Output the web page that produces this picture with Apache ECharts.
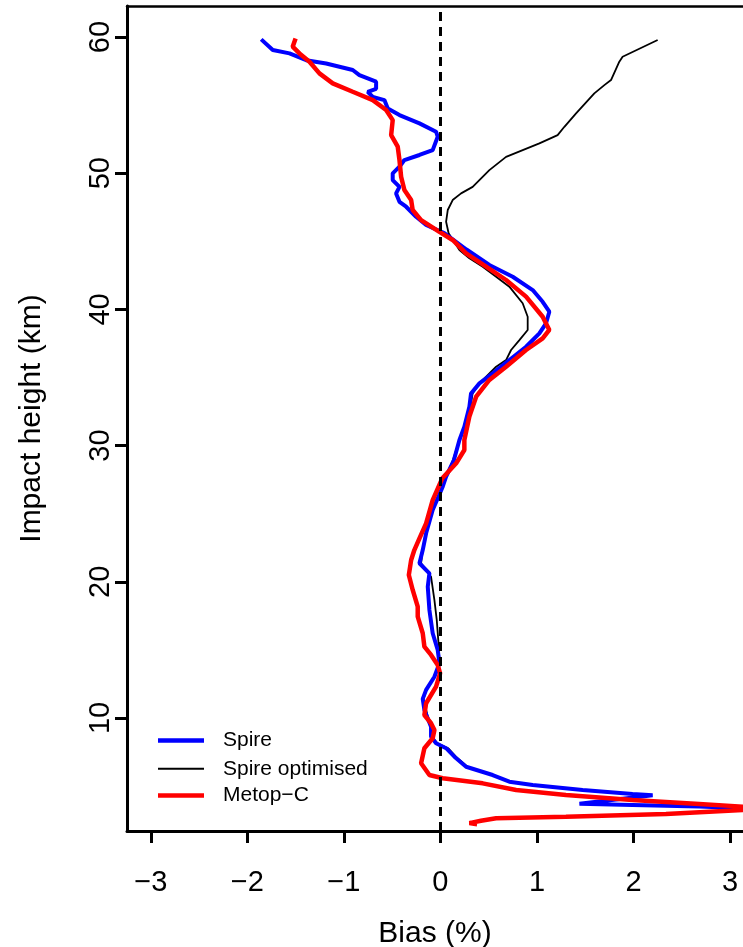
<!DOCTYPE html>
<html>
<head>
<meta charset="utf-8">
<script src="https://cdn.jsdelivr.net/npm/echarts@6/dist/echarts.min.js"></script>
<style>
  html, body { margin: 0; padding: 0; background: #fff; }
  #main { width: 743px; height: 947px; }
</style>
</head>
<body>
<div id="main"></div>
<script>
// tick values
const biasTicks = [-3, -2, -1, 0, 1, 2, 3]
const heightTicks = [10, 20, 30, 40, 50, 60]
const refBias = 0

// Spire
const spireHeight = [59.83, 59.05, 58.8, 58.3, 58.06, 57.58, 57.2, 56.72, 56.2, 55.98, 55.6, 55.37, 54.76, 54.27, 53.66, 53.05, 52.68, 51.7, 51.34, 50.97, 50.48, 49.99, 49.5, 49.0, 48.52, 47.9, 47.54, 46.8, 46.2, 45.6, 44.4, 43.26, 42.4, 41.42, 40.56, 39.83, 38.98, 38.24, 37.26, 36.28, 35.3, 34.57, 33.83, 32.85, 31.39, 30.41, 28.94, 27.72, 26.98, 25.27, 23.56, 22.33, 21.36, 20.62, 19.64, 17.93, 16.22, 15.0, 14.02, 13.03, 12.06, 11.4, 10.59, 9.36, 8.63, 8.14, 7.78, 7.16, 6.42, 5.81, 5.32, 5.08, 4.71, 4.42, 4.32, 3.70, 3.61, 3.49, 3.37, 3.33]
const spireBias = [-1.856, -1.736, -1.563, -1.39, -1.183, -0.908, -0.839, -0.666, -0.666, -0.753, -0.70, -0.58, -0.545, -0.424, -0.217, -0.045, -0.028, -0.08, -0.217, -0.373, -0.424, -0.494, -0.494, -0.424, -0.459, -0.424, -0.355, -0.252, -0.148, 0.04, 0.27, 0.507, 0.749, 0.956, 1.059, 1.128, 1.094, 1.025, 0.887, 0.714, 0.541, 0.404, 0.317, 0.30, 0.248, 0.197, 0.14, 0.059, 0.024, -0.08, -0.148, -0.183, -0.217, -0.114, -0.131, -0.114, -0.08, -0.028, -0.01, -0.062, -0.148, -0.183, -0.166, -0.097, -0.097, -0.045, 0.059, 0.145, 0.266, 0.541, 0.714, 0.956, 1.473, 1.99, 2.198, 1.44, 1.99, 2.68, 3.13, 3.3]

// Spire optimised
const optHeight = [59.78, 58.55, 58.19, 56.84, 56.47, 55.86, 54.39, 53.41, 52.8, 52.19, 51.2, 50.23, 49.0, 48.52, 48.03, 47.3, 46.44, 45.59, 44.36, 43.75, 43.14, 42.4, 41.67, 40.45, 39.46, 38.49, 37.75, 37.02, 36.28, 35.79, 34.57, 33.83, 32.37, 30.41, 28.94, 27.72, 25.27, 23.56, 22.33, 21.36, 20.37, 18.66, 17.2, 15.24, 14.02, 13.03, 12.06, 11.4, 10.1, 9.36, 8.63, 8.14, 7.78, 7.16, 6.42, 5.81, 5.32, 5.08, 4.71]
const optBias = [2.25, 1.887, 1.853, 1.767, 1.698, 1.594, 1.405, 1.284, 1.214, 1.025, 0.68, 0.507, 0.334, 0.214, 0.127, 0.076, 0.059, 0.085, 0.197, 0.30, 0.438, 0.577, 0.714, 0.852, 0.904, 0.904, 0.818, 0.732, 0.68, 0.577, 0.404, 0.334, 0.30, 0.197, 0.13, 0.06, -0.08, -0.148, -0.183, -0.2, -0.097, -0.062, -0.038, -0.017, -0.01, -0.062, -0.148, -0.175, -0.131, -0.09, -0.09, -0.03, 0.08, 0.16, 0.28, 0.54, 0.71, 0.95, 1.46]

// Metop-C
const metopHeight = [59.9, 59.29, 58.8, 58.19, 57.33, 56.6, 55.98, 55.37, 54.64, 53.9, 52.8, 51.95, 50.97, 49.74, 48.77, 48.03, 47.3, 46.56, 45.7, 45.1, 44.12, 43.14, 42.16, 40.94, 39.46, 38.49, 37.87, 37.02, 35.79, 34.82, 33.59, 32.13, 30.41, 29.68, 28.7, 27.6, 26.0, 24.29, 23.19, 22.33, 21.6, 20.5, 19.4, 18.17, 17.44, 16.22, 15.24, 14.63, 13.89, 13.28, 12.3, 11.08, 10.22, 9.61, 9.12, 8.51, 7.78, 6.67, 5.81, 5.57, 5.2, 4.71, 4.35, 3.98, 3.69, 3.49, 3.37, 3.24, 2.95, 2.75, 2.63, 2.45, 2.28, 2.2]
const metopBias = [-1.50, -1.53, -1.46, -1.356, -1.253, -1.115, -0.908, -0.70, -0.562, -0.494, -0.51, -0.442, -0.424, -0.407, -0.373, -0.303, -0.287, -0.2, -0.01, 0.127, 0.266, 0.473, 0.68, 0.887, 1.059, 1.128, 1.059, 0.887, 0.68, 0.507, 0.37, 0.30, 0.248, 0.248, 0.163, 0.02, -0.08, -0.148, -0.217, -0.27, -0.303, -0.327, -0.287, -0.235, -0.235, -0.183, -0.166, -0.097, -0.028, -0.003, -0.045, -0.148, -0.166, -0.097, -0.062, -0.08, -0.166, -0.2, -0.114, 0.024, 0.438, 0.784, 1.30, 1.99, 2.68, 3.13, 3.3, 3.13, 2.336, 1.30, 0.577, 0.42, 0.30, 0.38]

const FONT = '"Liberation Sans", Arial, sans-serif'

function pairs(xs, ys) {
  return xs.map((x, i) => [x, ys[i]])
}

// one legend per entry so each key line can have its own thickness
function legendItem(name, top, thick) {
  return {
    orient: 'vertical',
    left: 158,
    top: top,
    padding: 0,
    icon: 'rect',
    itemWidth: 46,
    itemHeight: thick,
    data: [name],
    textStyle: {
      fontFamily: FONT,
      fontSize: 21,
      color: '#000',
      padding: [0, 0, 0, 14]
    }
  }
}

const chart = echarts.init(document.getElementById('main'))

const option = {
  animation: false,
  backgroundColor: '#fff',
  grid: {
    left: 127,
    right: 0,
    top: 6,
    bottom: 116,
    outerBoundsMode: 'none'
  },
  legend: [
    legendItem('Spire', 730, 4.5),
    legendItem('Spire optimised', 758.3, 2),
    legendItem('Metop\u2212C', 785, 4.5)
  ],
  xAxis: [{
    type: 'value',
    min: -3.246,
    max: 3.134,
    name: 'Bias (%)',
    nameLocation: 'middle',
    nameGap: 88,
    nameTextStyle: { fontFamily: FONT, fontSize: 30, color: '#000' },
    axisLine: { onZero: false, lineStyle: { color: '#000', width: 3 } },
    axisTick: {
      show: true,
      length: 12,
      customValues: biasTicks,
      lineStyle: { color: '#000', width: 3 }
    },
    axisLabel: {
      customValues: biasTicks,
      margin: 37,
      fontFamily: FONT,
      fontSize: 29,
      color: '#000',
      formatter: v => (v < 0 ? '\u2212' + Math.abs(v) : String(v))
    },
    splitLine: { show: false }
  }, {
    // top frame line
    type: 'value',
    position: 'top',
    min: -3.246,
    max: 3.134,
    axisLine: { onZero: false, lineStyle: { color: '#000', width: 2.5 } },
    axisTick: { show: false },
    axisLabel: { show: false },
    splitLine: { show: false }
  }],
  yAxis: {
    type: 'value',
    min: 1.7,
    max: 62.28,
    name: 'Impact height (km)',
    nameLocation: 'middle',
    nameGap: 80,
    nameTextStyle: { fontFamily: FONT, fontSize: 30, color: '#000' },
    axisLine: { onZero: false, lineStyle: { color: '#000', width: 3 } },
    axisTick: {
      show: true,
      length: 12,
      customValues: heightTicks,
      lineStyle: { color: '#000', width: 3 }
    },
    axisLabel: {
      customValues: heightTicks,
      rotate: 90,
      margin: 12,
      fontFamily: FONT,
      fontSize: 29,
      color: '#000'
    },
    splitLine: { show: false }
  },
  series: [{
    name: 'Spire optimised',
    type: 'line',
    xAxisIndex: 0,
    symbol: 'none',
    color: '#000',
    lineStyle: { color: '#000', width: 1.8 },
    data: pairs(optBias, optHeight),
    z: 2,
    markLine: {
      silent: true,
      symbol: 'none',
      label: { show: false },
      lineStyle: { color: '#000', width: 3, type: [9, 6] },
      data: [{ xAxis: refBias }]
    }
  }, {
    name: 'Spire',
    type: 'line',
    xAxisIndex: 0,
    symbol: 'none',
    color: '#0000ff',
    lineStyle: { color: '#0000ff', width: 4 },
    data: pairs(spireBias, spireHeight),
    z: 3
  }, {
    name: 'Metop\u2212C',
    type: 'line',
    xAxisIndex: 0,
    symbol: 'none',
    color: '#ff0000',
    lineStyle: { color: '#ff0000', width: 4.5 },
    data: pairs(metopBias, metopHeight),
    z: 4
  }]
}

chart.setOption(option)
</script>
</body>
</html>
